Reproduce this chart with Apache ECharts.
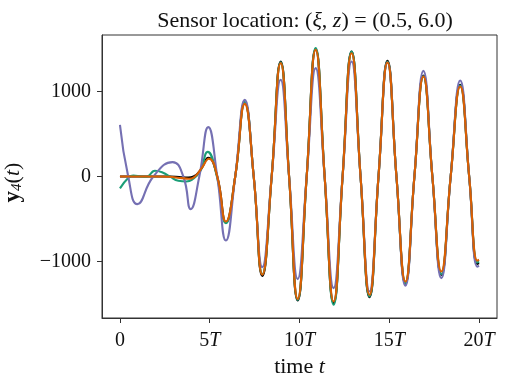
<!DOCTYPE html>
<html><head><meta charset="utf-8">
<script src="https://cdn.jsdelivr.net/npm/echarts@6/dist/echarts.min.js"></script>
<style>html,body{margin:0;padding:0;background:#fff}#c{width:509px;height:385px}</style>
</head><body><div id="c"></div>
<script>
// tick values
const xTicks = [0, 5, 10, 15, 20];
const yTicks = [-1000, 0, 1000];

// black series
const tBlack = [0, 1, 2, 2.8, 3.3, 3.8, 4.1, 4.5, 4.92, 5.42, 5.9, 6.42, 6.95, 7.45, 7.93, 8.45, 8.95, 9.42, 9.9, 10.4, 10.9, 11.4, 11.9, 12.4, 12.9, 13.4, 13.9, 14.4, 14.9, 15.4, 15.9, 16.4, 16.9, 17.4, 17.9, 18.42, 18.95, 19.45, 19.9, 20];
const yBlack = [0, 0, 0, 0, -5, -12, 0, 80, 220, 0, -540, 0, 870, 0, -1170, 0, 1353, 0, -1459, 0, 1500, 0, -1490, 0, 1471, 0, -1419, 0, 1361, 0, -1260, 0, 1188, 0, -1157, 0, 1079, 0, -1030, -1020];

// green series
const tGreen = [0, 0.46, 0.74, 1.2, 1.48, 1.95, 2.4, 2.79, 3.25, 3.7, 4.0, 4.46, 4.88, 5.4, 5.9, 6.42, 6.95, 7.45, 7.93, 8.45, 8.95, 9.42, 9.9, 10.4, 10.9, 11.4, 11.9, 12.4, 12.9, 13.4, 13.9, 14.4, 14.9, 15.4, 15.9, 16.4, 16.9, 17.4, 17.9, 18.42, 18.95, 19.45, 19.9, 20];
const yGreen = [-140, -19, 12, 0, -3, 67, 45, -2, -51, -58, -39, 60, 290, 0, -549, 0, 875, 0, -1150, 0, 1345, 0, -1450, 0, 1510, 0, -1509, 0, 1471, 0, -1410, 0, 1350, 0, -1255, 0, 1180, 0, -1150, 0, 1070, 0, -1010, -1000];

// purple series
const tPurple = [0, 0.46, 0.97, 1.86, 2.93, 3.53, 3.94, 4.42, 4.92, 5.42, 5.9, 6.42, 6.95, 7.45, 7.93, 8.45, 8.95, 9.42, 9.9, 10.4, 10.9, 11.4, 11.9, 12.4, 12.9, 13.4, 13.9, 14.4, 14.9, 15.4, 15.9, 16.4, 16.9, 17.4, 17.9, 18.42, 18.95, 19.45, 19.9, 20];
const yPurple = [608, 0, -325, 0, 169, 0, -384, 0, 581, 0, -753, 0, 902, 0, -1066, 0, 1138, 0, -1207, 0, 1275, 0, -1313, 0, 1353, 0, -1353, 0, 1340, 0, -1286, 0, 1243, 0, -1196, 0, 1129, 0, -1060, -1050];

// orange series
const tOrange = [0, 1, 2, 2.8, 3.2, 3.6, 3.9, 4.18, 4.55, 4.95, 5.42, 5.9, 6.42, 6.95, 7.45, 7.93, 8.45, 8.95, 9.42, 9.9, 10.4, 10.9, 11.4, 11.9, 12.4, 12.9, 13.4, 13.9, 14.4, 14.9, 15.4, 15.9, 16.4, 16.9, 17.4, 17.9, 18.42, 18.95, 19.45, 19.9, 20];
const yOrange = [0, 0, 0, -3, -15, -22, -27, 0, 98, 208, 0, -530, 0, 855, 0, -1156, 0, 1334, 0, -1440, 0, 1490, 0, -1470, 0, 1450, 0, -1392, 0, 1341, 0, -1235, 0, 1176, 0, -1118, 0, 1059, 0, -990, -980];

const zip = (t, y) => t.map((v, i) => [v, y[i]]);
const serif = '"Liberation Serif", "DejaVu Serif", serif';
const axisColor = '#333';
const txt = '#111';

const chart = echarts.init(document.getElementById('c'), null, {renderer: 'canvas'});
const lineSeries = (data, color) => ({
  type: 'line', data, smooth: 0.5, showSymbol: false, symbol: 'none',
  lineStyle: {color, width: 2.1}, itemStyle: {color}, animation: false
});
chart.setOption({
  animation: false,
  backgroundColor: '#fff',
  title: {
    text: 'Sensor location: {n|(}{i|ξ}{n|, }{i|z}{n|) = (0.5, 6.0)}',
    left: 300, top: 5, textAlign: 'center',
    textStyle: {
      fontFamily: serif, fontSize: 22, fontWeight: 'normal', color: txt,
      rich: {
        n: {fontFamily: serif, fontSize: 22, color: txt},
        i: {fontFamily: serif, fontSize: 22, fontStyle: 'italic', color: txt}
      }
    }
  },
  grid: {left: 102, right: 12, top: 35, bottom: 67, containLabel: false, outerBoundsMode: 'none', show: true, borderColor: axisColor, borderWidth: 1, backgroundColor: 'transparent'},
  xAxis: {
    type: 'value', min: -1, max: 21,
    splitLine: {show: false},
    axisLine: {show: true, onZero: false, lineStyle: {color: axisColor, width: 1}},
    axisTick: {show: true, length: 5, inside: false, customValues: xTicks, lineStyle: {color: axisColor}},
    axisLabel: {
      customValues: xTicks, margin: 13, color: txt,
      fontFamily: serif, fontSize: 20,
      formatter: v => v === 0 ? '{n|0}' : '{n|' + v + '}{i|T}',
      rich: {
        n: {fontFamily: serif, fontSize: 20, color: txt},
        i: {fontFamily: serif, fontSize: 20, fontStyle: 'italic', color: txt}
      }
    },
    name: '{n|time }{i|t}', nameLocation: 'middle', nameGap: 31,
    nameTextStyle: {
      fontFamily: serif, fontSize: 22, color: txt,
      rich: {
        n: {fontFamily: serif, fontSize: 22, color: txt},
        i: {fontFamily: serif, fontSize: 22, fontStyle: 'italic', color: txt}
      }
    }
  },
  yAxis: {
    type: 'value', min: -1665, max: 1665,
    splitLine: {show: false},
    axisLine: {show: true, onZero: false, lineStyle: {color: axisColor, width: 1}},
    axisTick: {show: true, length: 5, inside: false, customValues: yTicks, lineStyle: {color: axisColor}},
    axisLabel: {
      customValues: yTicks, margin: 11, color: txt,
      fontFamily: serif, fontSize: 20,
      formatter: v => v < 0 ? '\u2212' + Math.abs(v) : String(v)
    },
    name: '{b|y}{s|4}{n|(}{i|t}{n|)}', nameLocation: 'middle', nameGap: 77, nameRotate: 90,
    nameTextStyle: {
      fontFamily: serif, fontSize: 22, color: txt, padding: [0, 12, 0, 0],
      rich: {
        b: {fontFamily: serif, fontSize: 23, fontWeight: 'bold', color: txt},
        s: {fontFamily: serif, fontSize: 15, fontStyle: 'italic', color: txt, verticalAlign: 'bottom', padding: [9, 0, 0, 0]},
        n: {fontFamily: serif, fontSize: 22, color: txt},
        i: {fontFamily: serif, fontSize: 22, fontStyle: 'italic', color: txt}
      }
    }
  },
  series: [
    lineSeries(zip(tBlack, yBlack), '#000000'),
    lineSeries(zip(tGreen, yGreen), '#1b9e77'),
    lineSeries(zip(tPurple, yPurple), '#7570b3'),
    lineSeries(zip(tOrange, yOrange), '#d95f02')
  ]
});
</script>
</body></html>
